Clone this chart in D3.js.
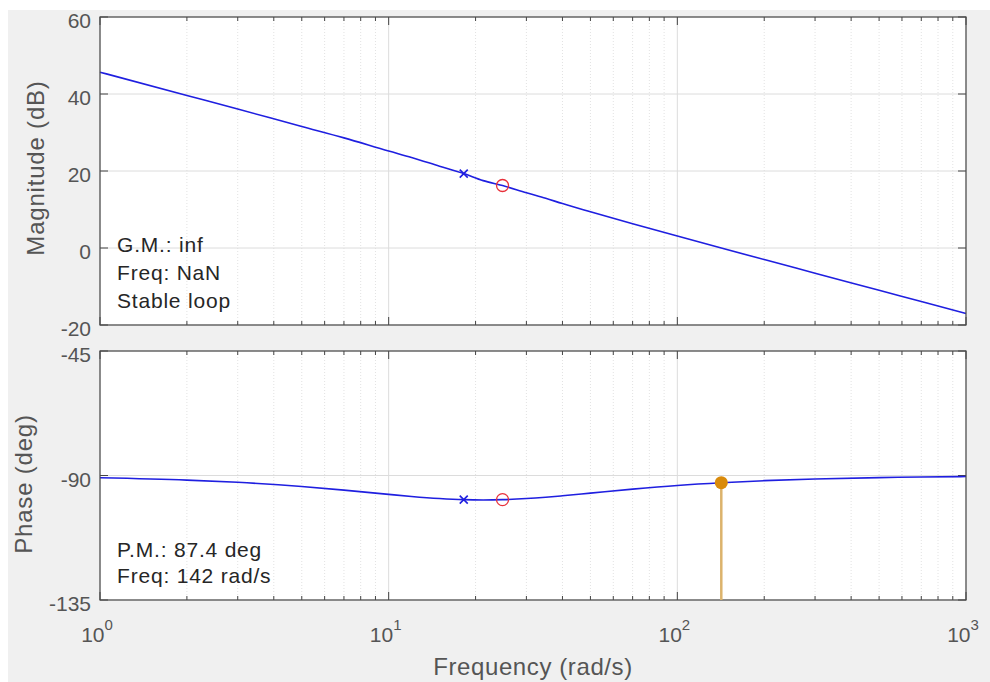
<html>
<head>
<script type='text/javascript' src='https://cdn.jsdelivr.net/npm/d3@7/dist/d3.min.js'></script>
<style>
  body{margin:0; background:#fff;}
  text{font-family:Arial,"Liberation Sans",Helvetica,sans-serif;}
</style>
</head>
<body>
<div id='fig'></div>
<script type='text/javascript'>
// bode data
var freq     = [1, 2, 3, 5, 7, 10, 12, 15, 18.2, 21.25, 24.8, 30, 35, 40, 50, 70, 100, 142, 200, 300, 500, 700, 1000];
var magDb    = [45.67, 39.63, 36.1, 31.55, 28.6, 25.18, 23.5, 21.25, 19.33, 17.5, 16.23, 14.34, 12.9, 11.54, 9.42, 6.31, 3.10, -0.01, -3.01, -6.54, -10.99, -13.92, -17.02];
var phaseDeg = [-90.84, -91.66, -92.46, -93.96, -95.28, -96.83, -97.58, -98.32, -98.73, -98.83, -98.73, -98.34, -97.85, -97.33, -96.38, -94.94, -93.61, -92.61, -91.87, -91.26, -90.76, -90.54, -90.38];

// pole (x) and zero (o) markers
var poleFreq = [18.2],  poleMag = [19.33], polePhase = [-98.73];
var zeroFreq = [24.8],  zeroMag = [16.23], zeroPhase = [-98.73];

// phase margin point
var pmFreq = [142], pmPhase = [-92.61];

var magTicks   = [-20, 0, 20, 40, 60];
var phaseTicks = [-135, -90, -45];
var decades    = [1, 10, 100, 1000];
var gmText = ['G.M.: inf', 'Freq: NaN', 'Stable loop'];
var pmText = ['P.M.: 87.4 deg', 'Freq: 142 rad/s'];

var W = 990, H = 682;
var L = 100, R = 966;
var svg = d3.select('#fig').append('svg')
  .attr('width', W).attr('height', H);

svg.append('rect').attr('x', 8).attr('y', 10)
  .attr('width', W - 8).attr('height', H - 10).attr('fill', '#f0f0f0');

var x = d3.scaleLog().domain([1, 1000]).range([L, R]);
var yMag = d3.scaleLinear().domain([-20, 60]).range([325, 17]);
var yPh  = d3.scaleLinear().domain([-135, -45]).range([600, 351]);

// minor freqs 2..9 per decade
var minors = [];
decades.slice(0, 3).forEach(function(d){
  for (var k = 2; k < 10; k++) minors.push(d * k);
});

function panel(y, ticks, series, pFreq, pVal, zFreq, zVal){
  var t = y.range()[1], b = y.range()[0];
  var g = svg.append('g');
  g.append('rect').attr('x', L).attr('y', t).attr('width', R - L).attr('height', b - t)
    .attr('fill', '#fff');

  // grid
  g.selectAll('.minor').data(minors).enter().append('line')
    .attr('x1', x).attr('x2', x).attr('y1', t).attr('y2', b)
    .attr('stroke', '#e2e2e2').attr('stroke-dasharray', '1,2');
  g.selectAll('.major').data(decades).enter().append('line')
    .attr('x1', x).attr('x2', x).attr('y1', t).attr('y2', b)
    .attr('stroke', '#dcdcdc');
  g.selectAll('.hgrid').data(ticks).enter().append('line')
    .attr('x1', L).attr('x2', R).attr('y1', y).attr('y2', y)
    .attr('stroke', '#dcdcdc');

  // ticks on all four sides
  [t, b].forEach(function(edge){
    var dir = edge == t ? 1 : -1;
    g.selectAll(null).data(minors).enter().append('line')
      .attr('x1', x).attr('x2', x).attr('y1', edge).attr('y2', edge + dir * 4)
      .attr('stroke', '#444');
    g.selectAll(null).data(decades).enter().append('line')
      .attr('x1', x).attr('x2', x).attr('y1', edge).attr('y2', edge + dir * 8)
      .attr('stroke', '#444');
  });
  [L, R].forEach(function(edge){
    var dir = edge == L ? 1 : -1;
    g.selectAll(null).data(ticks).enter().append('line')
      .attr('x1', edge).attr('x2', edge + dir * 8).attr('y1', y).attr('y2', y)
      .attr('stroke', '#444');
  });

  g.selectAll('.ylab').data(ticks).enter().append('text')
    .attr('x', 91).attr('y', function(d){ return y(d) + 11; })
    .attr('text-anchor', 'end').attr('font-size', 21).attr('fill', '#555')
    .text(function(d){ return d; });

  // curve
  var line = d3.line()
    .x(function(d, i){ return x(freq[i]); })
    .y(function(d){ return y(d); })
    .curve(d3.curveMonotoneX);
  g.append('path').attr('d', line(series))
    .attr('fill', 'none').attr('stroke', '#1f1fe0').attr('stroke-width', 1.6);

  // pole crosses
  pFreq.forEach(function(f, i){
    var cx = x(f), cy = y(pVal[i]);
    g.append('path').attr('d', 'M' + (cx - 4) + ',' + (cy - 4) + 'L' + (cx + 4) + ',' + (cy + 4) +
      'M' + (cx - 4) + ',' + (cy + 4) + 'L' + (cx + 4) + ',' + (cy - 4))
      .attr('stroke', '#1f1fe0').attr('stroke-width', 1.6);
  });
  // zero circles
  g.selectAll(null).data(zFreq).enter().append('circle')
    .attr('cx', x).attr('cy', function(d, i){ return y(zVal[i]); })
    .attr('r', 6).attr('fill', 'none').attr('stroke', '#e8303a').attr('stroke-width', 1.3);

  g.append('rect').attr('x', L).attr('y', t).attr('width', R - L).attr('height', b - t)
    .attr('fill', 'none').attr('stroke', '#4a4a4a').attr('stroke-width', 1.2);
  return g;
}

var gTop = panel(yMag, magTicks, magDb, poleFreq, poleMag, zeroFreq, zeroMag);
var gBot = panel(yPh, phaseTicks, phaseDeg, poleFreq, polePhase, zeroFreq, zeroPhase);

// phase margin stem + dot
gBot.selectAll(null).data(pmFreq).enter().append('line')
  .attr('x1', x).attr('x2', x)
  .attr('y1', function(d, i){ return yPh(pmPhase[i]); }).attr('y2', yPh(-135))
  .attr('stroke', '#dcb36c').attr('stroke-width', 2.5);
gBot.selectAll(null).data(pmFreq).enter().append('circle')
  .attr('cx', x).attr('cy', function(d, i){ return yPh(pmPhase[i]); })
  .attr('r', 6.5).attr('fill', '#d98a0a');

// margin texts
gTop.selectAll(null).data(gmText).enter().append('text')
  .attr('x', 117).attr('y', function(d, i){ return 252 + i * 28; })
  .attr('font-size', 21).attr('letter-spacing', 0.8).attr('fill', '#262626')
  .text(function(d){ return d; });
gBot.selectAll(null).data(pmText).enter().append('text')
  .attr('x', 117).attr('y', function(d, i){ return 557 + i * 26; })
  .attr('font-size', 21).attr('letter-spacing', 0.8).attr('fill', '#262626')
  .text(function(d){ return d; });

// x tick labels 10^n
var xl = svg.selectAll('.xlab').data(decades).enter().append('text')
  .attr('x', function(d){ return x(d) - 3; }).attr('y', 642)
  .attr('text-anchor', 'middle').attr('font-size', 21).attr('fill', '#555');
xl.append('tspan').text('10');
xl.append('tspan').attr('dy', -12).attr('font-size', 15)
  .text(function(d){ return Math.round(Math.log10(d)); });

// axis labels
svg.append('text').attr('x', (L + R) / 2).attr('y', 675)
  .attr('text-anchor', 'middle').attr('font-size', 24).attr('letter-spacing', 0.6)
  .attr('fill', '#555').text('Frequency (rad/s)');
svg.append('text').attr('transform', 'translate(44,168) rotate(-90)')
  .attr('text-anchor', 'middle').attr('font-size', 24).attr('letter-spacing', 0.8)
  .attr('fill', '#555').text('Magnitude (dB)');
svg.append('text').attr('transform', 'translate(32,484) rotate(-90)')
  .attr('text-anchor', 'middle').attr('font-size', 24).attr('letter-spacing', 0.8)
  .attr('fill', '#555').text('Phase (deg)');
</script>
</body>
</html>
